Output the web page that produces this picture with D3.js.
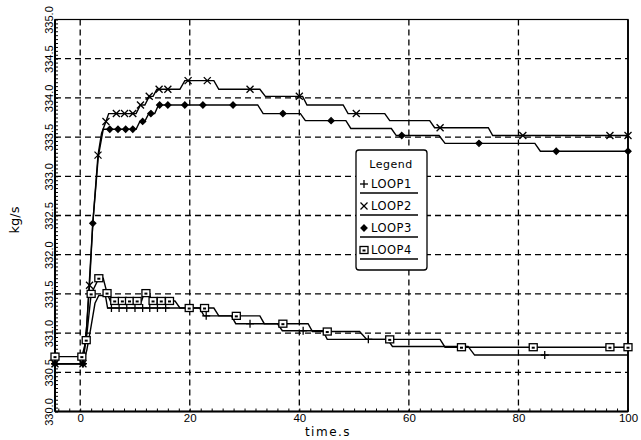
<!DOCTYPE html>
<html>
<head>
<meta charset="utf-8">
<script src="https://cdn.jsdelivr.net/npm/d3@7"></script>
<style>
  html, body { margin: 0; padding: 0; background: #fff; }
  svg text { font-family: "DejaVu Sans", "Liberation Sans", sans-serif; fill: #000; }
</style>
</head>
<body>
<svg id="chart" width="641" height="440"></svg>
<script>
// Mass flow rate per loop, kg/s, against time, s.
// Each point: [time, value, marker] — marker = 1 draws the series symbol there.
const loop1 = [
  [-4.6, 330.61, 1], [0.5, 330.61, 1], [1.2, 330.78, 0], [1.9, 331.05, 0], [2.7, 331.38, 0],
  [3.4, 331.48, 0], [4.6, 331.48, 0], [5.0, 331.32, 0],
  [5.7, 331.32, 1], [7.1, 331.32, 1], [8.5, 331.32, 1], [10.0, 331.32, 1], [11.4, 331.32, 1],
  [12.7, 331.32, 1], [14.1, 331.32, 1], [15.6, 331.32, 1], [21.8, 331.32, 0], [22.6, 331.22, 0],
  [23.0, 331.22, 1], [27.6, 331.22, 0], [28.4, 331.12, 0], [31.0, 331.12, 1], [36.0, 331.12, 0],
  [36.9, 331.03, 0], [40.7, 331.03, 1], [44.3, 331.03, 0], [45.1, 330.92, 0], [52.6, 330.92, 1],
  [56.1, 330.92, 0], [57.0, 330.83, 0], [70.8, 330.83, 0], [72.0, 330.72, 0], [84.8, 330.72, 1],
  [100, 330.72, 0]
];
const loop2 = [
  [-4.6, 330.61, 1], [0.5, 330.61, 1], [1.0, 330.90, 0], [1.7, 331.61, 1], [2.3, 332.40, 0],
  [3.25, 333.27, 1], [3.9, 333.55, 0], [4.7, 333.70, 1], [5.2, 333.80, 0],
  [6.6, 333.80, 1], [8.1, 333.80, 1], [9.6, 333.80, 1], [10.2, 333.80, 0], [11.0, 333.91, 1],
  [11.8, 333.91, 0], [12.6, 334.02, 1], [13.3, 334.02, 0], [14.0, 334.11, 0], [14.4, 334.11, 1],
  [16.0, 334.11, 1], [18.2, 334.11, 0], [19.1, 334.22, 0], [19.7, 334.22, 1], [23.2, 334.22, 1],
  [24.4, 334.22, 0], [25.3, 334.11, 0], [31.0, 334.11, 1], [32.8, 334.11, 0], [33.8, 334.02, 0],
  [40.0, 334.02, 1], [40.6, 334.02, 0], [41.4, 333.91, 0], [48.0, 333.91, 0], [48.9, 333.80, 0],
  [50.4, 333.80, 1], [55.6, 333.80, 0], [56.5, 333.71, 0], [63.8, 333.71, 0], [64.7, 333.62, 0],
  [65.7, 333.62, 1], [74.5, 333.62, 0], [75.3, 333.52, 0], [80.8, 333.52, 1], [96.7, 333.52, 1],
  [100, 333.52, 1]
];
const loop3 = [
  [-4.6, 330.61, 1], [0.5, 330.61, 1], [1.2, 331.10, 0], [2.3, 332.40, 1], [3.3, 333.25, 0],
  [4.2, 333.60, 0], [5.4, 333.60, 1], [6.9, 333.60, 1], [8.3, 333.60, 1], [9.6, 333.60, 1],
  [10.2, 333.60, 0], [10.9, 333.70, 0], [11.4, 333.70, 1], [11.8, 333.70, 0], [12.5, 333.80, 0],
  [12.9, 333.80, 1], [13.6, 333.80, 0], [14.3, 333.91, 0], [14.5, 333.91, 1], [16.0, 333.91, 1],
  [19.1, 333.91, 1], [22.4, 333.91, 1], [27.9, 333.91, 1], [32.4, 333.91, 0], [33.4, 333.80, 0],
  [37.0, 333.80, 1], [40.2, 333.80, 0], [41.1, 333.71, 0], [45.8, 333.71, 1], [48.5, 333.71, 0],
  [49.4, 333.61, 0], [56.8, 333.61, 0], [57.7, 333.52, 0], [58.7, 333.52, 1], [65.5, 333.52, 0],
  [66.6, 333.42, 0], [72.8, 333.42, 1], [83.0, 333.42, 0], [84.0, 333.32, 0], [86.9, 333.32, 1],
  [100, 333.32, 1]
];
const loop4 = [
  [-4.6, 330.70, 1], [0.3, 330.70, 1], [1.1, 330.91, 1], [2.0, 331.50, 1], [3.4, 331.70, 1],
  [4.2, 331.70, 0], [4.9, 331.51, 1], [5.5, 331.41, 0], [6.3, 331.41, 1], [7.7, 331.41, 1],
  [9.0, 331.41, 1], [10.4, 331.41, 1], [11.2, 331.41, 0], [11.7, 331.51, 0], [12.0, 331.51, 1],
  [12.6, 331.51, 0], [13.0, 331.41, 0], [13.3, 331.41, 1], [14.8, 331.41, 1], [16.3, 331.41, 1],
  [17.3, 331.41, 0], [18.2, 331.32, 0], [19.9, 331.32, 1], [22.7, 331.32, 1], [24.4, 331.32, 0],
  [25.3, 331.22, 0], [28.5, 331.22, 1], [32.8, 331.22, 0], [33.6, 331.12, 0], [37.0, 331.12, 1],
  [41.6, 331.12, 0], [42.4, 331.02, 0], [45.1, 331.02, 1], [51.0, 331.02, 0], [52.3, 330.92, 0],
  [56.5, 330.92, 1], [65.7, 330.92, 0], [66.6, 330.82, 0], [69.6, 330.82, 1], [82.7, 330.82, 1],
  [96.7, 330.82, 1], [100, 330.82, 1]
];

const seriesNames = ["LOOP1", "LOOP2", "LOOP3", "LOOP4"];
const seriesSymbols = ["plus", "cross", "dot", "box"];
const xMajorTicks = [0, 20, 40, 60, 80, 100];
const yMajorTicks = [330.0, 330.5, 331.0, 331.5, 332.0, 332.5, 333.0, 333.5, 334.0, 334.5, 335.0];
const xTitle = "time.s";
const yTitle = "kg/s";
const legendTitle = "Legend";

const svg = d3.select("#chart");
const plotLeft = 55, plotRight = 628, plotTop = 19.5, plotBottom = 411.5;

const x = d3.scaleLinear().domain([-4.6, 100]).range([plotLeft, plotRight]);
const y = d3.scaleLinear().domain([330, 335]).range([plotBottom, plotTop]);

// dashed grid
const grid = svg.append("g").attr("stroke", "#000").attr("stroke-width", 1.3)
  .attr("stroke-dasharray", "6,4").attr("fill", "none");
grid.selectAll("line.h").data(yMajorTicks.slice(1, -1)).join("line").attr("class", "h")
  .attr("x1", plotLeft).attr("x2", plotRight).attr("y1", d => y(d)).attr("y2", d => y(d));
grid.selectAll("line.v").data(xMajorTicks.slice(0, -1)).join("line").attr("class", "v")
  .attr("x1", d => x(d)).attr("x2", d => x(d)).attr("y1", plotTop).attr("y2", plotBottom);

// axes with inward minor ticks
const isMajorY = v => yMajorTicks.some(t => Math.abs(t - v) < 1e-6);
const yAxis = d3.axisLeft(y)
  .tickValues(d3.range(0, 101).map(i => 330 + i * 0.05))
  .tickSizeInner(-3).tickSizeOuter(0).tickPadding(2)
  .tickFormat(v => isMajorY(v) ? d3.format(".1f")(v) : "");
const gy = svg.append("g").attr("transform", `translate(${plotLeft},0)`).call(yAxis);
gy.select(".domain").remove();
gy.selectAll(".tick line").attr("stroke", "#000").attr("stroke-width", 1);
gy.selectAll(".tick text")
  .attr("transform", "rotate(-90)")
  .attr("x", 0).attr("y", -2).attr("dy", 0)
  .attr("text-anchor", "middle")
  .style("font-family", "'Liberation Sans', sans-serif")
  .style("font-size", "11px");

const isMajorX = v => xMajorTicks.includes(v);
const xAxis = d3.axisBottom(x)
  .tickValues(d3.range(-4, 101, 2))
  .tickSizeInner(-3).tickSizeOuter(0).tickPadding(2)
  .tickFormat(v => isMajorX(v) ? String(v) : "");
const gx = svg.append("g").attr("transform", `translate(0,${plotBottom})`).call(xAxis);
gx.select(".domain").remove();
gx.selectAll(".tick line").attr("stroke", "#000").attr("stroke-width", 1);
gx.selectAll(".tick text")
  .style("font-family", "'Liberation Sans', sans-serif")
  .style("font-size", "11.5px");

// frame
svg.append("rect").attr("x", plotLeft).attr("y", plotTop)
  .attr("width", plotRight - plotLeft).attr("height", plotBottom - plotTop)
  .attr("fill", "none").attr("stroke", "#000").attr("stroke-width", 1.2);
svg.append("line").attr("x1", plotLeft).attr("x2", plotLeft).attr("y1", plotTop).attr("y2", plotBottom)
  .attr("stroke", "#000").attr("stroke-width", 2);
svg.append("line").attr("x1", plotLeft).attr("x2", plotRight).attr("y1", plotBottom).attr("y2", plotBottom)
  .attr("stroke", "#000").attr("stroke-width", 2);
svg.append("line").attr("x1", plotRight).attr("x2", plotRight).attr("y1", plotTop).attr("y2", plotBottom)
  .attr("stroke", "#000").attr("stroke-width", 1.8);

// axis titles
svg.append("text").attr("x", 328).attr("y", 436).attr("text-anchor", "middle")
  .style("font-size", "12px").style("letter-spacing", "1.5px").text(xTitle);
svg.append("text").attr("transform", "translate(19,220) rotate(-90)")
  .attr("text-anchor", "middle").style("font-size", "13px").text(yTitle);

// symbols
function drawSymbol(g, kind, cx, cy) {
  const s = g.append("g").attr("transform", `translate(${cx},${cy})`)
    .attr("stroke", "#000").attr("stroke-width", 1.3);
  if (kind === "plus") {
    s.append("line").attr("x1", 0).attr("x2", 0).attr("y1", -4).attr("y2", 4);
    s.append("line").attr("x1", -4).attr("x2", 4).attr("y1", 0).attr("y2", 0);
  } else if (kind === "cross") {
    s.append("line").attr("x1", -3.5).attr("x2", 3.5).attr("y1", -3.5).attr("y2", 3.5);
    s.append("line").attr("x1", -3.5).attr("x2", 3.5).attr("y1", 3.5).attr("y2", -3.5);
  } else if (kind === "dot") {
    s.append("path").attr("d", "M0,-3L3,0L0,3L-3,0Z").attr("fill", "#000");
  } else if (kind === "box") {
    s.append("rect").attr("x", -4).attr("y", -3.5).attr("width", 8).attr("height", 7)
      .attr("fill", "#fff");
    s.append("rect").attr("x", -1.5).attr("y", -0.5).attr("width", 3).attr("height", 2)
      .attr("fill", "#000").attr("stroke", "none");
  }
}

// series lines and markers
const line = d3.line().x(d => x(d[0])).y(d => y(d[1]));
const allSeries = [loop1, loop2, loop3, loop4];
const plot = svg.append("g");
allSeries.forEach(data => {
  plot.append("path").datum(data).attr("d", line)
    .attr("fill", "none").attr("stroke", "#000").attr("stroke-width", 1.4);
});
allSeries.forEach((data, i) => {
  data.filter(d => d[2]).forEach(d => drawSymbol(plot, seriesSymbols[i], x(d[0]), y(d[1])));
});

// legend
const lg = svg.append("g");
lg.append("rect").attr("x", 356).attr("y", 150).attr("width", 71).attr("height", 120)
  .attr("rx", 3).attr("fill", "#fff").attr("stroke", "#000").attr("stroke-width", 1.3);
lg.append("text").attr("x", 391).attr("y", 168).attr("text-anchor", "middle")
  .style("font-size", "11px").style("letter-spacing", "0.5px").text(legendTitle);
seriesNames.forEach((name, i) => {
  const by = 188 + i * 22;
  drawSymbol(lg, seriesSymbols[i], 364, by - 4);
  lg.append("text").attr("x", 371).attr("y", by).style("font-size", "11.5px")
    .style("letter-spacing", "0.5px").text(name);
  lg.append("line").attr("x1", 360).attr("x2", 418).attr("y1", by + 5).attr("y2", by + 5)
    .attr("stroke", "#000").attr("stroke-width", 1.3);
});
</script>
</body>
</html>
